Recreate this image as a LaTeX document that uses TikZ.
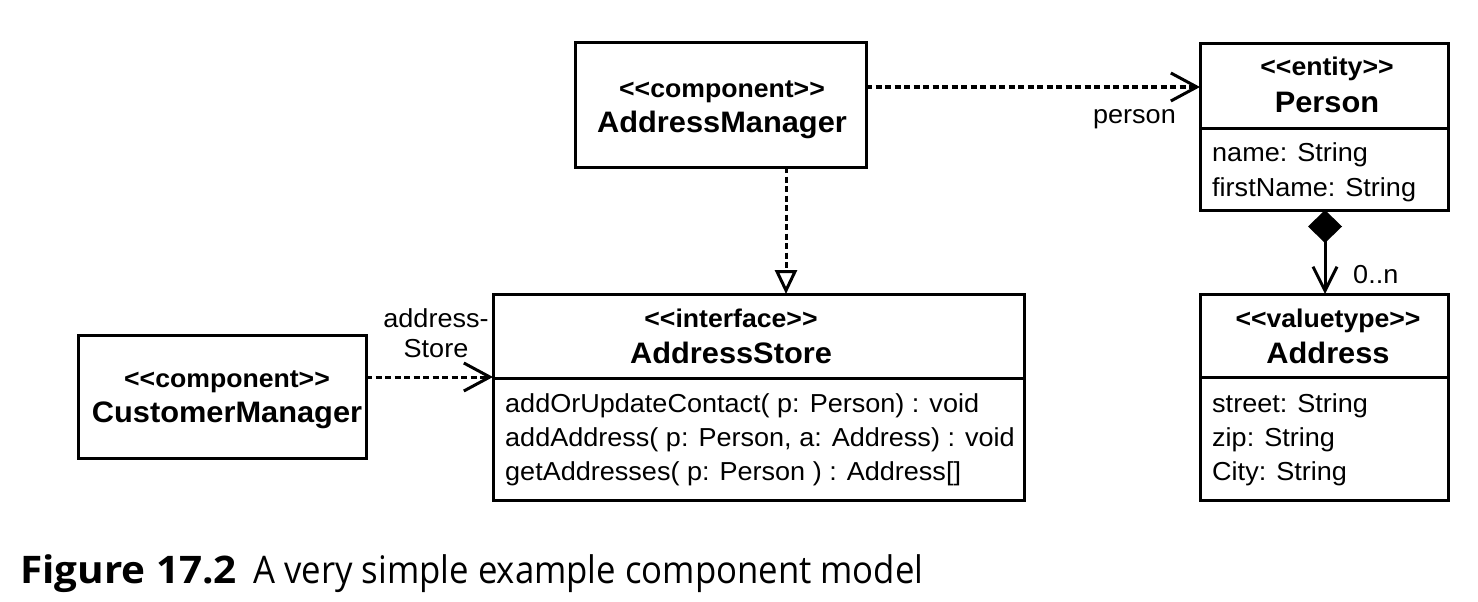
\documentclass[tikz,border=0pt]{standalone}
\usepackage{fontspec}
\setmainfont{Liberation Sans}[FakeStretch=1.04]
\newfontfamily\capreg{Open Sans}[FakeStretch=0.914]
\newfontfamily\capbold{Open Sans}[FakeStretch=1.065]
\usetikzlibrary{arrows.meta}
\begin{document}
\begin{tikzpicture}[x=1pt,y=-1pt,
  box/.style={draw, line width=3pt, rectangle, inner sep=0pt, outer sep=0pt},
  stereo/.style={font=\bfseries\fontsize{25.6}{28}\selectfont, inner sep=0pt, anchor=base},
  cname/.style={font=\bfseries\fontsize{29.6}{32}\selectfont, inner sep=0pt, anchor=base},
  attr/.style={font=\fontsize{26}{30}\selectfont, inner sep=0pt, anchor=base west},
  lbl/.style={font=\fontsize{26}{30}\selectfont, inner sep=0pt},
  dep/.style={line width=3pt, dash pattern=on 6pt off 3.5pt, -{Straight Barb[length=26pt,width=28pt]}},
  real/.style={line width=3pt, dash pattern=on 6pt off 3.5pt, -{Triangle[open,length=24pt,width=22pt,fill=white]}},
  comp/.style={line width=3pt, {Diamond[length=33pt,width=34pt]}-{Straight Barb[length=24pt,width=24pt]}},
  divider/.style={line width=3pt}
]
\useasboundingbox[fill=white] (0,0) rectangle (1478,602);

% boxes
\node[box, minimum width=291pt, minimum height=124pt] (am) at (720.5,105) {};
\node[box, minimum width=248pt, minimum height=166pt] (person) at (1324,127) {};
\node[box, minimum width=248pt, minimum height=206pt] (address) at (1324,397) {};
\node[box, minimum width=531pt, minimum height=206pt] (as) at (758.5,397) {};
\node[box, minimum width=288pt, minimum height=123pt] (cm) at (222,396.5) {};

% dividers
\draw[divider] ([yshift=-84pt]person.north west) -- ([yshift=-84pt]person.north east);
\draw[divider] ([yshift=-84pt]as.north west) -- ([yshift=-84pt]as.north east);
\draw[divider] ([yshift=-83pt]address.north west) -- ([yshift=-83pt]address.north east);

% texts
\node[stereo] (amS) at (722,97) {<{}<component>{}>};
\node[cname] (amN) at (722,132) {AddressManager};

\node[stereo] (pS) at (1327,76) {<{}<entity>{}>};
\node[cname] (pN) at (1327,112) {Person};
\node[attr] (pA1) at (1212,161) {name: String};
\node[attr] (pA2) at (1212,196) {firstName: String};

\node[stereo] (asS) at (731,327) {<{}<interface>{}>};
\node[cname] (asN) at (731,363) {AddressStore};
\node[attr] (asM1) at (505,412) {addOrUpdateContact( p: Person) : void};
\node[attr] (asM2) at (505,446) {addAddress( p: Person, a: Address) : void};
\node[attr] (asM3) at (505,480) {getAddresses( p: Person ) : Address[]};

\node[stereo] (adS) at (1328,327) {<{}<valuetype>{}>};
\node[cname] (adN) at (1328,363) {Address};
\node[attr] (adA1) at (1212,412) {street: String};
\node[attr] (adA2) at (1212,446) {zip: String};
\node[attr] (adA3) at (1212,480) {City: String};

\node[stereo] (cmS) at (227,387) {<{}<component>{}>};
\node[cname] (cmN) at (227,422) {CustomerManager};

% connectors
\draw[dep] ([yshift=18pt]am.east) -- ([yshift=18pt]am.east -| person.west);
\draw[real] ([xshift=65.5pt]am.south) -- ([xshift=65.5pt]am.south |- as.north);
\draw[dep] ([yshift=19.5pt]cm.east) -- ([yshift=19.5pt]cm.east -| as.west);
\draw[comp] ([xshift=1pt]person.south) -- ([xshift=1pt]person.south |- address.north);

% labels
\node[lbl, anchor=base east] (lperson) at (1176,123) {person};
\node[lbl, anchor=base] (laddr1) at (436,327) {address-};
\node[lbl, anchor=base] (laddr2) at (436,357) {Store};
\node[lbl, anchor=base west] (lmult) at (1353,283) {0..n};

% caption
\node[anchor=base west, inner sep=0pt, font=\capbold\bfseries\fontsize{38}{42}\selectfont] (cap1) at (20,583) {Figure 17.2};
\node[anchor=base west, inner sep=0pt, font=\capreg\fontsize{38}{42}\selectfont] (cap2) at (253,583) {A very simple example component model};
\end{tikzpicture}
\end{document}
